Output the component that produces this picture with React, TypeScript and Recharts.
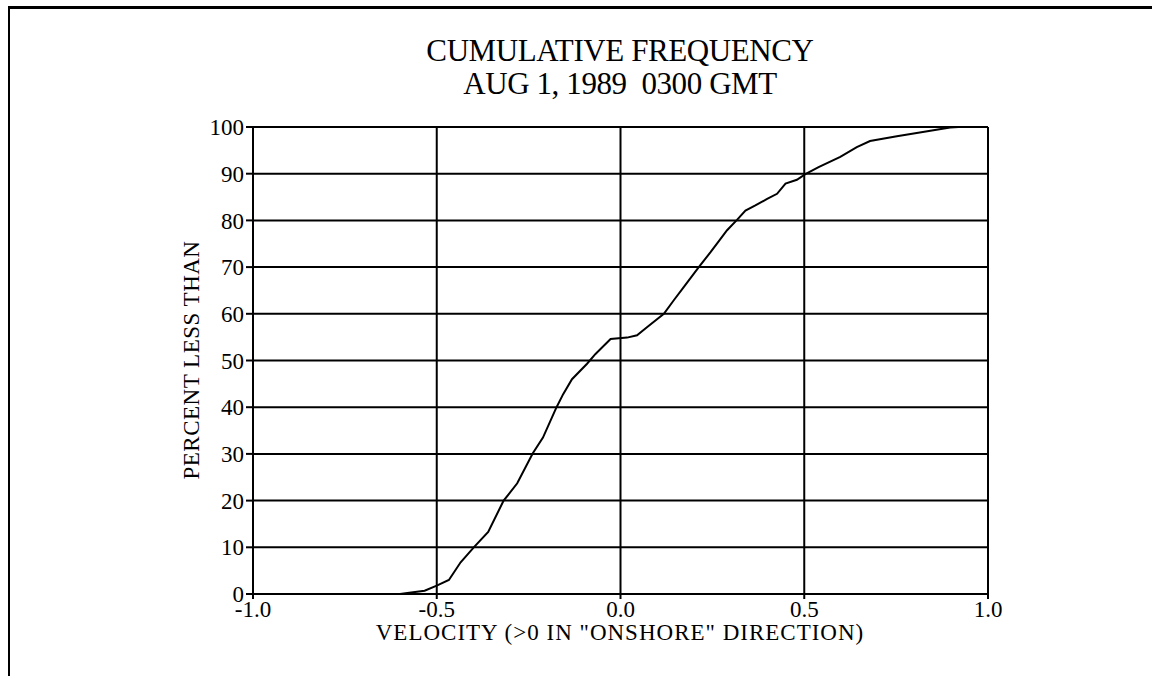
import React from 'react';
import { LineChart, Line, XAxis, YAxis, CartesianGrid } from 'recharts';

const velocity = [
  -0.6, -0.58, -0.533, -0.5, -0.467, -0.435, -0.398, -0.36, -0.318, -0.281,
  -0.239, -0.211, -0.174, -0.156, -0.132, -0.091, -0.068, -0.027, 0.018, 0.045,
  0.072, 0.118, 0.145, 0.172, 0.213, 0.245, 0.263, 0.29, 0.317, 0.34,
  0.367, 0.399, 0.426, 0.449, 0.48, 0.503, 0.539, 0.598, 0.643, 0.679,
  0.752, 0.806, 0.897, 0.92, 1.0,
];
const percentLess = [
  0, 0.2, 0.7, 1.8, 3.0, 6.8, 10.1, 13.3, 20.0, 23.7,
  30.1, 33.5, 40.0, 42.8, 46.0, 49.3, 51.4, 54.6, 54.9, 55.4,
  57.1, 60.0, 62.9, 65.7, 70.0, 73.2, 75.1, 77.9, 80.1, 82.1,
  83.2, 84.6, 85.7, 87.9, 88.7, 89.9, 91.4, 93.6, 95.7, 97.0,
  98.0, 98.7, 99.9, 100, 100,
];
const xTicks = [-1, -0.5, 0, 0.5, 1];
const yTicks = [0, 10, 20, 30, 40, 50, 60, 70, 80, 90, 100];

const data = velocity.map((v, i) => ({ v, p: percentLess[i] }));

const font = '"Liberation Serif", "DejaVu Serif", serif';

export default function App() {
  return (
    <div style={{ position: 'absolute', left: 0, top: 0, width: 1152, height: 676, background: '#fff', overflow: 'hidden', fontFamily: font, color: '#000' }}>
      <div style={{ position: 'absolute', left: 8, top: 6, right: 0, bottom: 0, borderTop: '3px solid #000', borderLeft: '2px solid #000' }} />
      <div style={{ position: 'absolute', left: 0, width: 1240, top: 34, textAlign: 'center', fontSize: 31, lineHeight: '33px', letterSpacing: -0.4 }}>
        CUMULATIVE FREQUENCY
        <br />
        AUG 1, 1989&nbsp; 0300 GMT
      </div>
      <div style={{ position: 'absolute', left: 192, top: 360, width: 0, height: 0 }}>
        <div style={{ position: 'absolute', transform: 'translate(-50%, -50%) rotate(-90deg)', whiteSpace: 'nowrap', fontSize: 23, letterSpacing: 0.5 }}>
          PERCENT LESS THAN
        </div>
      </div>
      <div style={{ position: 'absolute', left: 0, width: 1240, top: 620, textAlign: 'center', fontSize: 23, letterSpacing: 1 }}>
        VELOCITY (&gt;0 IN "ONSHORE" DIRECTION)
      </div>
      <div style={{ position: 'absolute', left: 0, top: 0 }}>
        <LineChart width={1152} height={676} data={data} margin={{ top: 127, right: 164, bottom: 22, left: 193 }}>
          <CartesianGrid stroke="#000" strokeWidth={2} horizontalValues={yTicks} verticalValues={xTicks} />
          <XAxis
            type="number"
            dataKey="v"
            domain={[-1, 1]}
            ticks={xTicks}
            tickFormatter={(t: number) => t.toFixed(1)}
            height={60}
            axisLine={{ stroke: '#000', strokeWidth: 2 }}
            tickLine={{ stroke: '#000', strokeWidth: 2 }}
            tickSize={5}
            tick={{ fill: '#000', fontSize: 23, fontFamily: font }}
          />
          <YAxis
            type="number"
            domain={[0, 100]}
            ticks={yTicks}
            width={60}
            axisLine={{ stroke: '#000', strokeWidth: 2 }}
            tickLine={{ stroke: '#000', strokeWidth: 2 }}
            tickSize={7}
            tick={{ fill: '#000', fontSize: 23, fontFamily: font }}
          />
          <Line type="linear" dataKey="p" stroke="#000" strokeWidth={2} dot={false} isAnimationActive={false} />
        </LineChart>
      </div>
    </div>
  );
}
